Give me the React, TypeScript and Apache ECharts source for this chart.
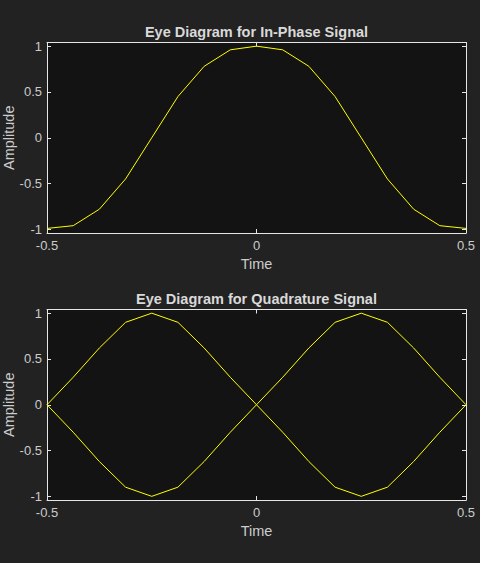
import { useEffect, useRef } from 'react';
import * as echarts from 'echarts';

// time samples (one symbol period)
const timeAxis = [
  -0.5, -0.4375, -0.375, -0.3125, -0.25, -0.1875, -0.125, -0.0625, 0,
  0.0625, 0.125, 0.1875, 0.25, 0.3125, 0.375, 0.4375, 0.5,
];

// in-phase eye trace
const inPhase = [
  -0.99, -0.96, -0.78, -0.45, 0.0, 0.45, 0.78, 0.96, 1.0,
  0.96, 0.78, 0.45, 0.0, -0.45, -0.78, -0.96, -0.99,
];

// quadrature eye traces
const quadTraceA = [
  0, 0.3, 0.62, 0.9, 1.0, 0.9, 0.62, 0.3, 0,
  -0.3, -0.62, -0.9, -1.0, -0.9, -0.62, -0.3, 0,
];
const quadTraceB = [
  0, -0.3, -0.62, -0.9, -1.0, -0.9, -0.62, -0.3, 0,
  0.3, 0.62, 0.9, 1.0, 0.9, 0.62, 0.3, 0,
];

const yTicks = [-1, -0.5, 0, 0.5, 1];
const titles = ['Eye Diagram for In-Phase Signal', 'Eye Diagram for Quadrature Signal'];

const FONT = '"Liberation Sans", Arial, Helvetica, sans-serif';
const LINE = '#e6e6e6';
const LABEL = '#cccccc';
const TRACE = '#ffff00';

const pairs = (ys: number[]) => timeAxis.map((t, i) => [t, ys[i]]);

export default function App() {
  const chartRef = useRef<HTMLDivElement>(null);

  useEffect(() => {
    document.body.style.margin = '0';
    if (!chartRef.current) return;
    const chart = echarts.init(chartRef.current, undefined, { renderer: 'svg' });

    const grids = [
      { left: 47, top: 42.5, width: 419, height: 190.5 },
      { left: 47, top: 309.5, width: 419, height: 190.5 },
    ];

    const xAxes: any[] = [];
    const yAxes: any[] = [];
    grids.forEach((_, g) => {
      const tick = { show: true, inside: true, length: 4, lineStyle: { color: LINE } };
      // bottom (labelled) and top (box only)
      xAxes.push({
        type: 'value', gridIndex: g, position: 'bottom', min: -0.5, max: 0.5, interval: 0.5,
        name: 'Time', nameLocation: 'middle', nameGap: 23, nameMoveOverlap: false,
        nameTextStyle: { color: LABEL, fontSize: 14.5, fontFamily: FONT },
        axisLine: { show: true, onZero: false, lineStyle: { color: LINE, width: 1 } },
        axisTick: tick,
        axisLabel: { color: LABEL, fontSize: 13, fontFamily: FONT, margin: 6, showMinLabel: true, showMaxLabel: true },
        splitLine: { show: false },
      });
      xAxes.push({
        type: 'value', gridIndex: g, position: 'top', min: -0.5, max: 0.5, interval: 0.5,
        axisLine: { show: true, onZero: false, lineStyle: { color: LINE, width: 1 } },
        axisTick: tick,
        axisLabel: { show: false },
        splitLine: { show: false },
      });
      yAxes.push({
        type: 'value', gridIndex: g, position: 'left', min: -1.04, max: 1.04,
        name: 'Amplitude', nameLocation: 'middle', nameGap: 31, nameMoveOverlap: false,
        nameTextStyle: { color: LABEL, fontSize: 14.5, fontFamily: FONT },
        axisLine: { show: true, onZero: false, lineStyle: { color: LINE, width: 1 } },
        axisTick: { ...tick, customValues: yTicks },
        axisLabel: { color: LABEL, fontSize: 13, fontFamily: FONT, margin: 5, customValues: yTicks },
        splitLine: { show: false },
      });
      yAxes.push({
        type: 'value', gridIndex: g, position: 'right', min: -1.04, max: 1.04,
        axisLine: { show: true, onZero: false, lineStyle: { color: LINE, width: 1 } },
        axisTick: { ...tick, customValues: yTicks },
        axisLabel: { show: false, customValues: yTicks },
        splitLine: { show: false },
      });
    });

    const line = (name: string, ys: number[], g: number) => ({
      name,
      type: 'line',
      xAxisIndex: g * 2,
      yAxisIndex: g * 2,
      data: pairs(ys),
      showSymbol: false,
      symbol: 'none',
      lineStyle: { color: TRACE, width: 1 },
      z: 1,
    });

    chart.setOption({
      animation: false,
      backgroundColor: '#222222',
      grid: grids.map(gr => ({
        ...gr,
        show: true,
        backgroundColor: '#131313',
        borderWidth: 0,
        containLabel: false,
        outerBoundsMode: 'none',
      })),
      xAxis: xAxes,
      yAxis: yAxes,
      graphic: titles.map((text, i) => ({
        type: 'text',
        x: 256.5,
        y: i === 0 ? 31.5 : 298.5,
        style: {
          text,
          fill: '#d9d9d9',
          font: `bold 14.5px ${FONT}`,
          align: 'center',
          verticalAlign: 'middle',
          textAlign: 'center',
          textVerticalAlign: 'middle',
        },
      })),
      series: [
        line('In-Phase', inPhase, 0),
        line('Quadrature A', quadTraceA, 1),
        line('Quadrature B', quadTraceB, 1),
      ],
    });

    return () => {
      chart.dispose();
    };
  }, []);

  return <div ref={chartRef} style={{ width: 480, height: 563 }} />;
}
